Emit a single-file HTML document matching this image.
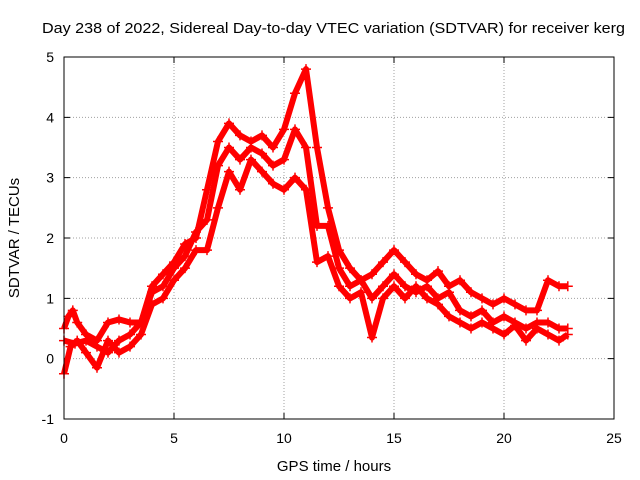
<!DOCTYPE html>
<html><head><meta charset="utf-8"><style>
body{margin:0;background:#fff}
svg{display:block;font-family:"Liberation Sans",sans-serif}
</style></head><body>
<svg id="chart" width="640" height="480" viewBox="0 0 640 480">
<text x="42" y="33" font-size="15" textLength="583" lengthAdjust="spacingAndGlyphs">Day 238 of 2022, Sidereal Day-to-day VTEC variation (SDTVAR) for receiver kerg</text>
<text x="334" y="471" font-size="15" text-anchor="middle">GPS time / hours</text>
<text transform="translate(19,238) rotate(-90)" font-size="15" text-anchor="middle">SDTVAR / TECUs</text>
<g id="grid"></g><g id="ticks"></g><g id="marks"></g>
<rect x="64" y="57" width="550" height="362" fill="none" stroke="#000" stroke-width="1"/>
</svg>
<script>
const xTicks=[0,5,10,15,20,25];
const yTicks=[-1,0,1,2,3,4,5];
const timesA=[0,0.2,0.4,0.6,1,1.5,2,2.5,3,3.5,4,4.5,5,5.5,6,6.5,7,7.5,8,8.5,9,9.5,10,10.5,11,11.5,12,12.5,13,13.5,14,14.5,15,15.5,16,16.5,17,17.5,18,18.5,19,19.5,20,20.5,21,21.5,22,22.5,22.9];
const upper=[0.5,0.7,0.8,0.6,0.4,0.3,0.6,0.65,0.6,0.6,1.2,1.4,1.6,1.9,2.0,2.8,3.6,3.9,3.7,3.6,3.7,3.5,3.8,4.4,4.8,3.5,2.5,1.8,1.5,1.3,1.4,1.6,1.8,1.6,1.4,1.3,1.45,1.2,1.3,1.1,1.0,0.9,1.0,0.9,0.8,0.8,1.3,1.2,1.2];
const timesB=[0,0.3,0.6,1,1.5,2,2.5,3,3.5,4,4.5,5,5.5,6,6.5,7,7.5,8,8.5,9,9.5,10,10.5,11,11.5,12,12.5,13,13.5,14,14.5,15,15.5,16,16.5,17,17.5,18,18.5,19,19.5,20,20.5,21,21.5,22,22.5,22.9];
const lower=[-0.25,0.2,0.3,0.1,-0.15,0.3,0.1,0.2,0.4,0.9,1.0,1.3,1.5,1.8,1.8,2.5,3.1,2.8,3.3,3.1,2.9,2.8,3.0,2.8,1.6,1.7,1.2,1.0,1.1,0.35,1.0,1.2,1.0,1.2,1.0,0.9,0.7,0.6,0.5,0.6,0.5,0.4,0.55,0.3,0.5,0.4,0.3,0.4];
const timesC=[0,0.5,1,1.5,2,2.5,3,3.5,4,4.5,5,5.5,6,6.5,7,7.5,8,8.5,9,9.5,10,10.5,11,11.5,12,12.5,13,13.5,14,14.5,15,15.5,16,16.5,17,17.5,18,18.5,19,19.5,20,20.5,21,21.5,22,22.5,22.9];
const middle=[0.3,0.25,0.3,0.2,0.1,0.3,0.4,0.6,1.1,1.2,1.5,1.7,2.1,2.3,3.2,3.5,3.3,3.5,3.4,3.2,3.3,3.8,3.5,2.2,2.2,1.5,1.2,1.3,1.0,1.2,1.4,1.2,1.1,1.2,1.0,1.1,0.8,0.7,0.8,0.6,0.7,0.6,0.5,0.6,0.6,0.5,0.5];

const X0=64,X1=614,Y0=419,Y1=57;
const xs=v=>X0+(v-0)/(25-0)*(X1-X0);
const ys=v=>Y0-(v+1)/6*(Y0-Y1);
const NS="http://www.w3.org/2000/svg";
function mk(tag,attrs,parent){const e=document.createElementNS(NS,tag);for(const k in attrs)e.setAttribute(k,attrs[k]);parent.appendChild(e);return e;}
const grid=document.getElementById('grid'),ticks=document.getElementById('ticks'),marks=document.getElementById('marks');
xTicks.forEach(t=>{
  const x=xs(t);
  if(t>0&&t<25){const g=mk('line',{x1:x,x2:x,y1:Y0,y2:Y1,stroke:'#a0a0a0','stroke-dasharray':'1,2'},grid);
  
  }
  const tk=mk('path',{d:`M${x},${Y0}v-6M${x},${Y1}v6`,stroke:'#000'},ticks);
  
  
  const l=mk('text',{x:x,y:Y0+24,'font-size':14,'text-anchor':'middle'},ticks);l.textContent=t;
  
  
});
yTicks.forEach(t=>{
  const y=ys(t);
  if(t>-1&&t<5){const g=mk('line',{x1:X0,x2:X1,y1:y,y2:y,stroke:'#a0a0a0','stroke-dasharray':'1,2'},grid);
  
  }
  const tk=mk('path',{d:`M${X0},${y}h6M${X1},${y}h-6`,stroke:'#000'},ticks);
  
  
  const l=mk('text',{x:X0-10,y:y+5,'font-size':14,'text-anchor':'end'},ticks);l.textContent=t;
  
  
});
function series(ts,vs,name){
  const pts=ts.map((t,i)=>xs(t)+','+ys(vs[i])).join(' ');
  const pl=mk('polyline',{points:pts,fill:'none',stroke:'#ff0000','stroke-width':6,'stroke-linejoin':'round'},marks);
  
  
  ts.forEach((t,i)=>{
    const x=xs(t),y=ys(vs[i]);
    const p=mk('path',{d:`M${x-5},${y}h10M${x},${y-5}v10`,stroke:'#ff0000','stroke-width':1.5},marks);
    
    
  });
}
series(timesA,upper,'upper');
series(timesB,lower,'lower');
series(timesC,middle,'middle');
</script>
</body></html>
